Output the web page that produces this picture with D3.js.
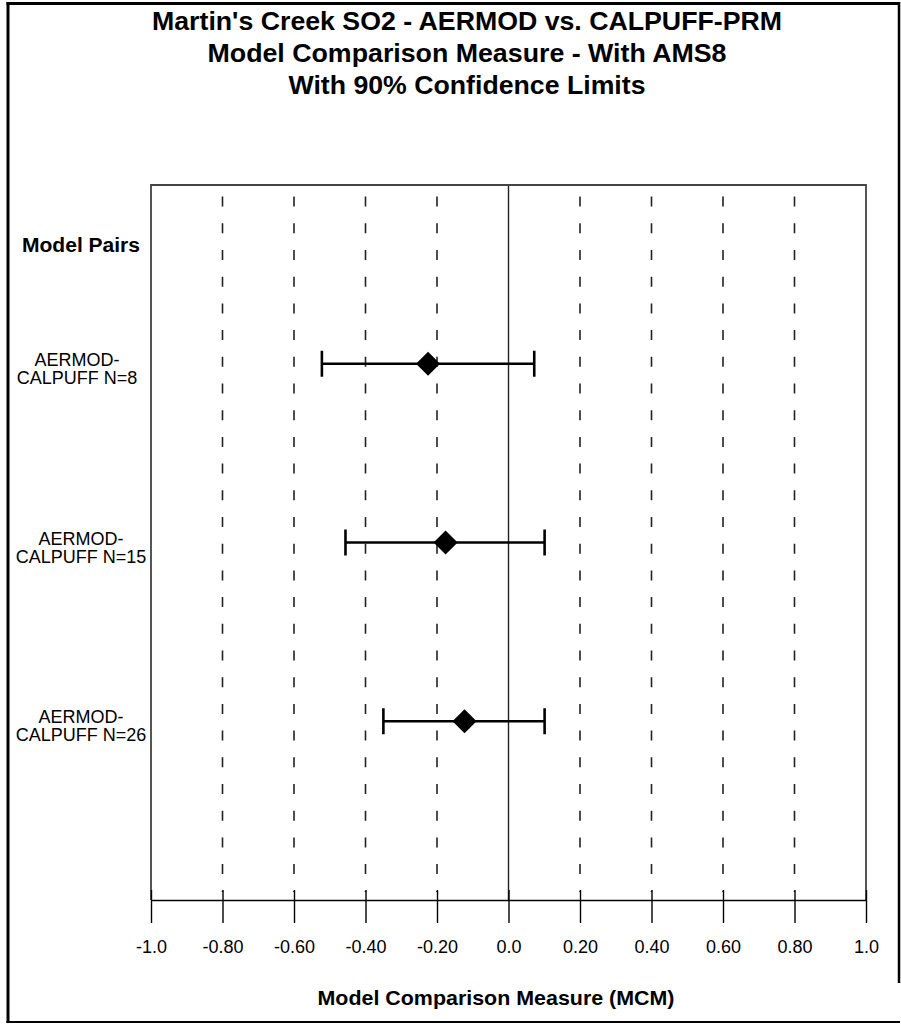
<!DOCTYPE html>
<html><head><meta charset="utf-8">
<script src="https://cdn.jsdelivr.net/npm/d3@7"></script>
<style>
body{margin:0;background:#fff}
text{font-family:"Liberation Sans",Arial,Helvetica,sans-serif;fill:#000}
</style></head>
<body><svg id="c" width="901" height="1024"></svg>
<script>
// ---- data ----
const titleLines = ["Martin's Creek SO2 - AERMOD vs. CALPUFF-PRM",
                    "Model Comparison Measure - With AMS8",
                    "With 90% Confidence Limits"];
const yHeader = "Model Pairs";
const pairLine1 = ["AERMOD-", "AERMOD-", "AERMOD-"];
const pairLine2 = ["CALPUFF N=8", "CALPUFF N=15", "CALPUFF N=26"];
const mcm   = [-0.225, -0.176, -0.123];
const lower = [-0.522, -0.456, -0.350];
const upper = [ 0.072,  0.101,  0.101];
const tickValues = [-1.0, -0.8, -0.6, -0.4, -0.2, 0.0, 0.2, 0.4, 0.6, 0.8, 1.0];
const tickLabels = ["-1.0","-0.80","-0.60","-0.40","-0.20","0.0","0.20","0.40","0.60","0.80","1.0"];
const gridValues = [-0.8, -0.6, -0.4, -0.2, 0.2, 0.4, 0.6, 0.8];
const xTitle = "Model Comparison Measure (MCM)";

// ---- layout ----
const svg = d3.select("#c");
const L = 151, R = 866, T = 185, B = 900;
const x = d3.scaleLinear().domain([-1, 1]).range([L, R]);
const y = d3.scaleLinear().domain([0, 4]).range([T, B]);

// outer border
const border = svg.append("g").attr("stroke", "#000").attr("fill", "none");
border.append("line").attr("x1", 8).attr("x2", 8).attr("y1", 2).attr("y2", 1023).attr("stroke-width", 3);
border.append("line").attr("x1", 6.5).attr("x2", 900).attr("y1", 3.5).attr("y2", 3.5).attr("stroke-width", 3);
border.append("line").attr("x1", 899).attr("x2", 899).attr("y1", 2).attr("y2", 983).attr("stroke-width", 2.5);
border.append("line").attr("x1", 6.5).attr("x2", 900).attr("y1", 1022).attr("y2", 1022).attr("stroke-width", 2);

// title
const titleW = [630, 519, 357], titleY = [30, 62, 94];
svg.append("g").selectAll("text").data(titleLines).join("text")
  .attr("x", 467).attr("y", (d, i) => titleY[i])
  .attr("text-anchor", "middle").attr("font-size", 25).attr("font-weight", "bold")
  .attr("textLength", (d, i) => titleW[i]).attr("lengthAdjust", "spacingAndGlyphs")
  .text(d => d);

// grid dashed lines
svg.append("g").selectAll("line").data(gridValues).join("line")
  .attr("x1", d => x(d)).attr("x2", d => x(d))
  .attr("y1", T).attr("y2", B - 8)
  .attr("stroke", "#222").attr("stroke-width", 1.6)
  .attr("stroke-dasharray", "10,16.7").attr("stroke-dashoffset", 15.1);

// zero line
svg.append("line").attr("x1", x(0)).attr("x2", x(0)).attr("y1", T).attr("y2", B)
  .attr("stroke", "#222").attr("stroke-width", 1.4);

// frame
svg.append("path")
  .attr("d", `M${L},${B}V${T}H${R}V${B}`)
  .attr("fill", "none").attr("stroke", "#444").attr("stroke-width", 1.8);

// x axis
const axis = d3.axisBottom(x).tickValues(tickValues)
  .tickFormat((d, i) => tickLabels[i]).tickSizeInner(23).tickSizeOuter(0).tickPadding(17);
const ax = svg.append("g").attr("transform", `translate(0,${B})`).call(axis);
ax.select(".domain").attr("stroke", "#000").attr("stroke-width", 1.6);
ax.selectAll(".tick line").attr("y1", -10).attr("stroke", "#000").attr("stroke-width", 1.4);
ax.selectAll(".tick text").attr("font-size", 18)
  .attr("font-family", '"Liberation Sans",Arial,sans-serif').attr("fill", "#000");

svg.append("text").attr("x", 496).attr("y", 1005)
  .attr("text-anchor", "middle").attr("font-size", 21).attr("font-weight", "bold")
  .attr("textLength", 357).attr("lengthAdjust", "spacingAndGlyphs")
  .text(xTitle);

// y header
svg.append("text").attr("x", 81).attr("y", 252)
  .attr("text-anchor", "middle").attr("font-size", 20).attr("font-weight", "bold")
  .attr("textLength", 118).attr("lengthAdjust", "spacingAndGlyphs")
  .text(yHeader);

// row labels
const rows = svg.append("g").selectAll("g").data(mcm).join("g");
rows.append("text").attr("x", (d, i) => i === 0 ? 77 : 81)
  .attr("y", (d, i) => y(i + 1) + 2).attr("text-anchor", "middle").attr("font-size", 18)
  .attr("fill", "#111").text((d, i) => pairLine1[i]);
rows.append("text").attr("x", (d, i) => i === 0 ? 77 : 81)
  .attr("y", (d, i) => y(i + 1) + 20).attr("text-anchor", "middle").attr("font-size", 18)
  .attr("fill", "#111").text((d, i) => pairLine2[i]);

// error bars
const eb = svg.append("g").attr("stroke", "#000").attr("stroke-width", 2.6).attr("fill", "none");
eb.selectAll(".bar").data(mcm).join("line").attr("class", "bar")
  .attr("x1", (d, i) => x(lower[i])).attr("x2", (d, i) => x(upper[i]))
  .attr("y1", (d, i) => y(i + 1)).attr("y2", (d, i) => y(i + 1));
eb.selectAll(".capL").data(mcm).join("line").attr("class", "capL")
  .attr("x1", (d, i) => x(lower[i])).attr("x2", (d, i) => x(lower[i]))
  .attr("y1", (d, i) => y(i + 1) - 13).attr("y2", (d, i) => y(i + 1) + 13);
eb.selectAll(".capU").data(mcm).join("line").attr("class", "capU")
  .attr("x1", (d, i) => x(upper[i])).attr("x2", (d, i) => x(upper[i]))
  .attr("y1", (d, i) => y(i + 1) - 13).attr("y2", (d, i) => y(i + 1) + 13);

// diamonds
const sym = d3.symbol().type(d3.symbolSquare).size(290);
svg.append("g").selectAll("path").data(mcm).join("path")
  .attr("d", sym)
  .attr("transform", (d, i) => `translate(${x(d)},${y(i + 1)}) rotate(45)`)
  .attr("fill", "#000");
</script>
</body></html>
